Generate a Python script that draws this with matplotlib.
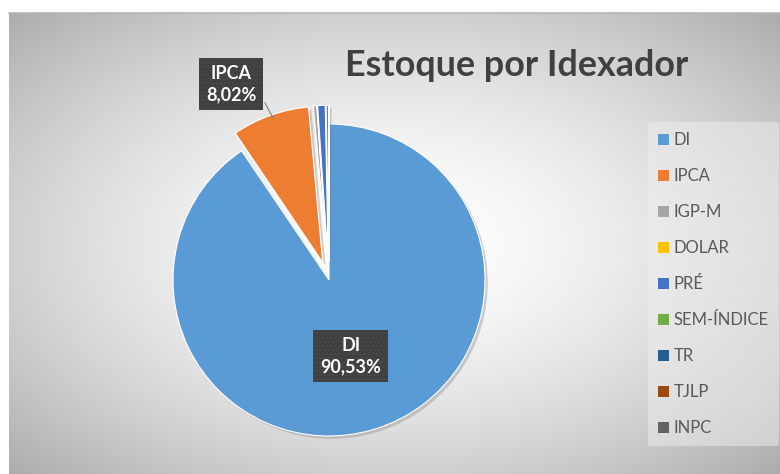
import numpy as np
import matplotlib
matplotlib.use('Agg')
import matplotlib.pyplot as plt
import matplotlib.patheffects as pe
from matplotlib.patches import Patch

plt.rcParams['font.family'] = ['Lato', 'DejaVu Sans']

# data
labels = ['DI', 'IPCA', 'IGP-M', 'DOLAR', 'PRÉ', 'SEM-ÍNDICE', 'TR', 'TJLP', 'INPC']
values = [90.53, 8.02, 0.35, 0.02, 0.78, 0.03, 0.22, 0.03, 0.02]
colors = ['#5B9BD5', '#ED7D31', '#A5A5A5', '#FFC000', '#4472C4',
          '#70AD47', '#255E91', '#9E480E', '#636363']
title = 'Estoque por Idexador'

W, H = 780, 474
fig = plt.figure(figsize=(W / 100, H / 100), dpi=100)
fig.patch.set_facecolor('white')

# chart area background (radial gray gradient)
bg = fig.add_axes([9 / W, 0, (W - 9) / W, (H - 13) / H])
yy, xx = np.mgrid[-1:1:300j, -1:1:500j]
d = np.sqrt((xx * 0.9) ** 2 + (yy * 0.9) ** 2)
shade = 1 - 0.22 * np.clip(d, 0, 1.3) ** 1.6
bg.imshow(np.dstack([shade] * 3), aspect='auto', extent=[0, 1, 0, 1],
          interpolation='bilinear')
bg.set_xlim(0, 1)
bg.set_ylim(0, 1)
bg.set_xticks([])
bg.set_yticks([])
for s in bg.spines.values():
    s.set_visible(False)
bg.spines['top'].set_visible(True)
bg.spines['top'].set_color('#b5b5b5')
bg.spines['top'].set_linewidth(1.2)

# pie axes: centre (329, 280) px, radius 156 px
cx, cy, R, half = 329, 280, 156, 220
ax = fig.add_axes([(cx - half) / W, (H - cy - half) / H, 2 * half / W, 2 * half / H])

explode = [0] + [0.12] * (len(values) - 1)
wedges, _ = ax.pie(values, colors=colors, startangle=90, counterclock=False,
                   explode=explode, radius=1,
                   wedgeprops=dict(edgecolor='white', linewidth=0.8))
for w in wedges:
    w.set_path_effects([pe.SimplePatchShadow(offset=(2, -2), shadow_rgbFace='#808080', alpha=0.35),
                        pe.Normal()])
ax.set_xlim(-half / R, half / R)
ax.set_ylim(-half / R, half / R)
ax.set_aspect('equal')
ax.axis('off')

box = dict(boxstyle='square,pad=0.4', facecolor='#404040', edgecolor='#4a4a4a',
           hatch='....', linewidth=0)
t1 = ax.text(0.14, -0.487, f'{labels[0]}\n{values[0]:.2f}%'.replace('.', ','),
             ha='center', va='center', color='white', fontsize=13, fontweight='bold',
             linespacing=1.3, bbox=box)
t2 = ax.text(-0.628, 1.256, f'{labels[1]}\n{values[1]:.2f}%'.replace('.', ','),
             ha='center', va='center', color='white', fontsize=13, fontweight='bold',
             linespacing=1.3, bbox=box)
ax.plot([-0.41, -0.36], [1.135, 1.04], color='#7f7f7f', lw=0.8)

fig.text(517 / W, 1 - 66 / H, title, ha='center', va='center', fontsize=25.8,
         fontweight='bold', color='#404040')

handles = [Patch(facecolor=c, edgecolor='none') for c in colors]
leg = fig.legend(handles, labels, loc='upper left', bbox_to_anchor=(648 / W, 1 - 122 / H),
                 frameon=True, fontsize=12, labelcolor='#595959', handlelength=0.65,
                 handleheight=0.65, handletextpad=0.3, labelspacing=1.2,
                 borderaxespad=0, borderpad=0.6)
leg.get_frame().set_facecolor('#eeeeee')
leg.get_frame().set_edgecolor('none')
leg.get_frame().set_alpha(0.5)

fig.savefig('out.png', dpi=100)
